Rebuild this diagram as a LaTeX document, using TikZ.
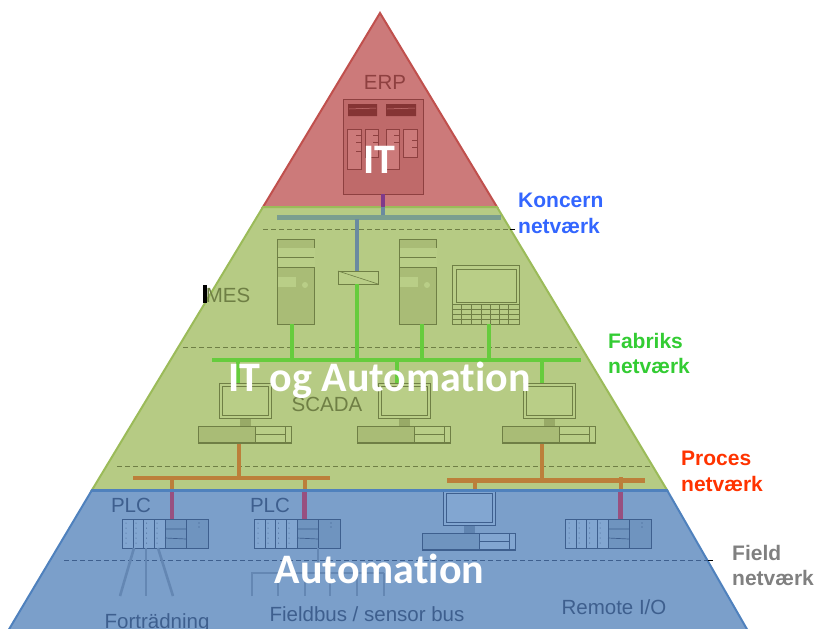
\documentclass[tikz,border=0pt]{standalone}
\usepackage{fontspec}
\setmainfont{Liberation Sans}
\newfontfamily\calib[Ligatures=NoCommon]{Carlito}
\definecolor{redfill}{HTML}{CC7A7A}
\definecolor{rededge}{HTML}{C0504D}
\definecolor{greenfill}{HTML}{B6CB84}
\definecolor{greenedge}{HTML}{9BBB59}
\definecolor{bluefill}{HTML}{7B9FCA}
\definecolor{blueedge}{HTML}{4F81BD}
\definecolor{gline}{HTML}{6F7F45}
\definecolor{gdark}{HTML}{A9BC76}
\definecolor{glight}{HTML}{B9CE87}
\definecolor{bline}{HTML}{3E5F8E}
\definecolor{bdark}{HTML}{6F94BF}
\definecolor{blight}{HTML}{82A6D1}
\definecolor{rline}{HTML}{8E4040}
\definecolor{rdark}{HTML}{BF6A6A}
\definecolor{rbar}{HTML}{853434}
\definecolor{konc}{HTML}{7A9E8F}
\definecolor{koncv}{HTML}{6A8AA0}
\definecolor{purp}{HTML}{7F3A8A}
\definecolor{plum}{HTML}{985080}
\definecolor{fab}{HTML}{66CC3D}
\definecolor{orng}{HTML}{BC7F3A}
\definecolor{wirecol}{HTML}{6487B3}
\definecolor{lblblue}{HTML}{3366FF}
\definecolor{lblgreen}{HTML}{33CC33}
\definecolor{lblred}{HTML}{FF3300}
\definecolor{lblgrey}{HTML}{808080}
\tikzset{
  layer/.style={line width=2pt,line join=miter},
  boxnode/.style={draw,inner sep=0pt,outer sep=0pt,anchor=north west,line width=.8pt},
  dashline/.style={dashed,dash pattern=on 5pt off 3pt,line width=.6pt},
  bar/.style={line width=#1},
  netlabel/.style={font=\fontsize{21}{25.5}\selectfont\bfseries,align=left,anchor=north west,inner sep=0pt},
  devlabel/.style={font=\fontsize{20.5}{22}\selectfont,inner sep=0pt},
  bigwhite/.style={font=\fontsize{42}{46}\selectfont\calib\bfseries,text=white,inner sep=0pt},
  pics/tower/.style={code={
    \node[boxnode,draw=gline,fill=gdark,minimum width=37pt,minimum height=85pt] (-box) at (0,0) {};
    \fill[glight] (1,9) rectangle (38,19);
    \fill[glight] (1,19) rectangle (38,28);
    \draw[gline,line width=.6pt] (1,18.5) -- (37,18.5) (1,28) -- (37,28);
    \fill[glight] (1,38) rectangle (19,48);
    \fill[glight] (28,46) circle (3);
  }},
  pics/monitor/.style n args={3}{code={
    \fill[#2!70!#1] (21,35) rectangle (32,43);
    \node[boxnode,draw=#1,fill=#3,minimum width=52pt,minimum height=35pt] (-scr) at (0,0) {};
    \draw[#1,line width=.7pt] (3,3) rectangle (49,32);
    \node[boxnode,draw=#1,fill=#2,minimum width=93pt,minimum height=17pt] (-box) at (-21,43) {};
    \fill[#3] (36,43.5) rectangle (72,59.5);
    \draw[#1,line width=.7pt] (36,43) -- (36,60) (36,51) -- (66,51) (66,43) -- (66,60);
    \draw[#1,line width=1.4pt] (-21,60) -- (72,60);
  }},
  pics/plc/.style={code={
    \node[boxnode,draw=bline,fill=bdark,minimum width=86pt,minimum height=29pt] (-box) at (0,0) {};
    \fill[blight] (0.5,0.5) rectangle (43,28.5);
    \foreach \x in {11,21.5,32,43,64}{\draw[bline,line width=.7pt] (\x,0) -- (\x,29);}
    \draw[bline,line width=.7pt] (43,10) -- (64,10) (43,19) -- (64,20);
    \foreach \x in {4,14,24.5,35}{\foreach \y in {4,9,...,26}{\fill[bline] (\x,\y) circle (.5);}}
    \fill[bline] (77,4) circle (.6) (77,8) circle (.6);
  }},
}
\begin{document}
\begin{tikzpicture}[x=1pt,y=-1pt]
\useasboundingbox (0,0) rectangle (814,629);
% layers
\draw[layer,draw=rededge,fill=redfill] (380,13) -- (497,207) -- (263,207) -- cycle;
\draw[layer,draw=greenedge,fill=greenfill] (263,207) -- (497,207) -- (667,490) -- (92,490) -- cycle;
\draw[layer,draw=blueedge,fill=bluefill] (92,490) -- (667,490) -- (748,631) -- (8,631) -- cycle;
% ERP cabinet
\node[boxnode,draw=rline,fill=rdark,minimum width=80pt,minimum height=95pt] (erp) at (343,99) {};
\fill[rbar] (348,104) rectangle (377,116) (386,104) rectangle (416,116);
\draw[redfill,line width=.5pt] (349,109) -- (376,108) (387,109) -- (415,108);
\draw[rline,fill=redfill,line width=.6pt]
  (347,129) rectangle (361,169) (365,129) rectangle (378,157)
  (386,129) rectangle (399,169) (403,129) rectangle (417,157);
\draw[rline,line width=.5pt] (356,135) -- (361,135) (356,142) -- (361,142) (356,151) -- (361,151)
  (373,135) -- (378,135) (373,142) -- (378,142) (394,135) -- (399,135) (394,142) -- (399,142)
  (412,140) -- (417,140) (412,147) -- (417,147);
% network anchors
\coordinate (koncL) at (277,217.5);
\coordinate (koncR) at (501,217.5);
\coordinate (fabL) at (212,359.5);
\coordinate (fabR) at (581,359.5);
\coordinate (procAL) at (133,477.5);
\coordinate (procAR) at (330,477.5);
\coordinate (procBL) at (447,480.5);
\coordinate (procBR) at (645,480.5);
% router
\node[boxnode,draw=gline,fill=glight,line width=.6pt,minimum width=40pt,minimum height=13pt] (router) at (338,271) {};
\draw[gline,line width=.6pt] (router.north west) -- (router.south east);
% MES devices
\pic (t1) at (277,239) {tower};
\pic (t2) at (399,239) {tower};
\node[boxnode,draw=gline,fill=glight,minimum width=67pt,minimum height=39pt] (lap) at (452,265) {};
\draw[gline,line width=.9pt] (456,269) rectangle (516,302);
\node[boxnode,draw=gline,fill=greenfill,line width=.6pt,minimum width=67pt,minimum height=20pt] (key) at (452,304) {};
\foreach \x in {461,471,481,490,499,508}{\draw[gline,line width=.4pt] (\x,304) -- (\x,324);}
\foreach \y in {309,314,319}{\draw[gline,line width=.4pt] (452,\y) -- (519,\y);}
% SCADA devices
\pic (m1) at (219,383) {monitor={gline}{gdark}{glight}};
\pic (m2) at (378,383) {monitor={gline}{gdark}{glight}};
\pic (m3) at (523,383) {monitor={gline}{gdark}{glight}};
% PLC devices
\pic (p1) at (122,519) {plc};
\pic (p2) at (254,519) {plc};
\pic (p3) at (565,519) {plc};
\pic (m4) at (443,490) {monitor={bline}{bdark}{blight}};
% dashed levels
\coordinate (d1a) at (263,229); \coordinate (d1b) at (510,229);
\coordinate (d2a) at (183,347); \coordinate (d2b) at (577,347);
\coordinate (d3a) at (117,466); \coordinate (d3b) at (650,466);
\coordinate (d4a) at (64,560.5); \coordinate (d4b) at (708,560.5);
\draw[dashline,draw=gline] (d1a) -- (d1b);
\draw[black,line width=.8pt] (d1b) -- ++(5,0);
\draw[dashline,draw=gline] (d2a) -- (d2b);
\draw[dashline,draw=gline] (d3a) -- (d3b);
\draw[dashline,draw=bline] (d4a) -- (d4b);
\draw[black,line width=.8pt] (d4b) -- ++(5,0);
% Koncern network
\draw[purp,bar=4pt] (erp.south -| 383,0) -- (383,207);
\draw[koncv,bar=4pt] (383,207) -- (383,217);
\draw[konc,bar=5pt] (koncL) -- (koncR);
\draw[koncv,bar=4pt] (router.north -| 356.5,0) -- (356.5,219);
% Factory network
\draw[fab,bar=4pt] (fabL) -- (fabR);
\draw[fab,bar=4pt] (t1-box.south) ++(-4,0) -- ++(0,35);
\draw[fab,bar=4pt] (t2-box.south) ++(4.5,0) -- ++(0,35);
\draw[fab,bar=4pt] (router.south -| 356.5,0) -- (356.5,359);
\draw[fab,bar=4pt] (key.south -| 489,0) -- (489,359);
\draw[fab,bar=4pt] (238,359) -- (238,383);
\draw[fab,bar=4pt] (397,359) -- (397,383);
\draw[fab,bar=4pt] (542,359) -- (542,383);
% Process network
\draw[orng,bar=4pt] (procAL) -- (procAR);
\draw[orng,bar=4.5pt] (procBL) -- (procBR);
\draw[orng,bar=4pt] (238.5,444) -- (238.5,477);
\draw[orng,bar=4pt] (541.5,444) -- (541.5,480);
\draw[orng,bar=4pt] (172,477) -- (172,490);
\draw[orng,bar=4pt] (304.5,477) -- (304.5,490);
\draw[orng,bar=4pt] (475,480) -- (475,490);
\draw[orng,bar=4pt] (620.5,477) -- (620.5,490);
\draw[plum,bar=4.5pt] (172,490) -- (172,519);
\draw[plum,bar=4.5pt] (304.5,490) -- (304.5,519);
\draw[plum,bar=4.5pt] (620.5,490) -- (620.5,519);
\fill[blueedge] (92,489) rectangle (667,491.5);
% Field wiring
\draw[wirecol,line width=2.6pt] (134,548) -- (120,596);
\draw[wirecol,line width=2.6pt] (146,548) -- (146,596);
\draw[wirecol,line width=2.6pt] (158,548) -- (173,596);
\draw[wirecol,line width=2.6pt] (318,548) -- (318,573);
\draw[wirecol,line width=2.8pt] (252,596) -- (252,573) -- (384,573);
\foreach \x in {278,305,330,357,384}{\draw[wirecol,line width=2.8pt] (\x,573) -- (\x,596);}
% labels
\node[devlabel,text=rline] (erpT) at (385,82) {ERP};
\fill[black] (203,285) rectangle (206.5,303);
\node[devlabel,text=gline] (mesT) at (228,295) {MES};
\node[devlabel,text=gline] (scT) at (327,404) {SCADA};
\node[devlabel,text=bline] (pl1) at (131,505) {PLC};
\node[devlabel,text=bline] (pl2) at (270,505) {PLC};
\node[devlabel,text=bline] (ftT) at (157,623) {Forträdning};
\node[devlabel,text=bline] (fbT) at (367,614) {Fieldbus / sensor bus};
\node[devlabel,text=bline] (riT) at (614,607) {Remote I/O};
\node[bigwhite] (itT) at (379,160) {IT};
\node[bigwhite] (iaT) at (379.5,380) {IT og Automation};
\node[bigwhite] (auT) at (379.5,569) {Automation};
\node[netlabel,text=lblblue] (kn) at (518,193) {Koncern\\netværk};
\node[netlabel,text=lblgreen] (fn) at (608,333) {Fabriks\\netværk};
\node[netlabel,text=lblred] (pn) at (681,451) {Proces\\netværk};
\node[netlabel,text=lblgrey] (fl) at (732,545) {Field\\netværk};
\end{tikzpicture}
\end{document}
